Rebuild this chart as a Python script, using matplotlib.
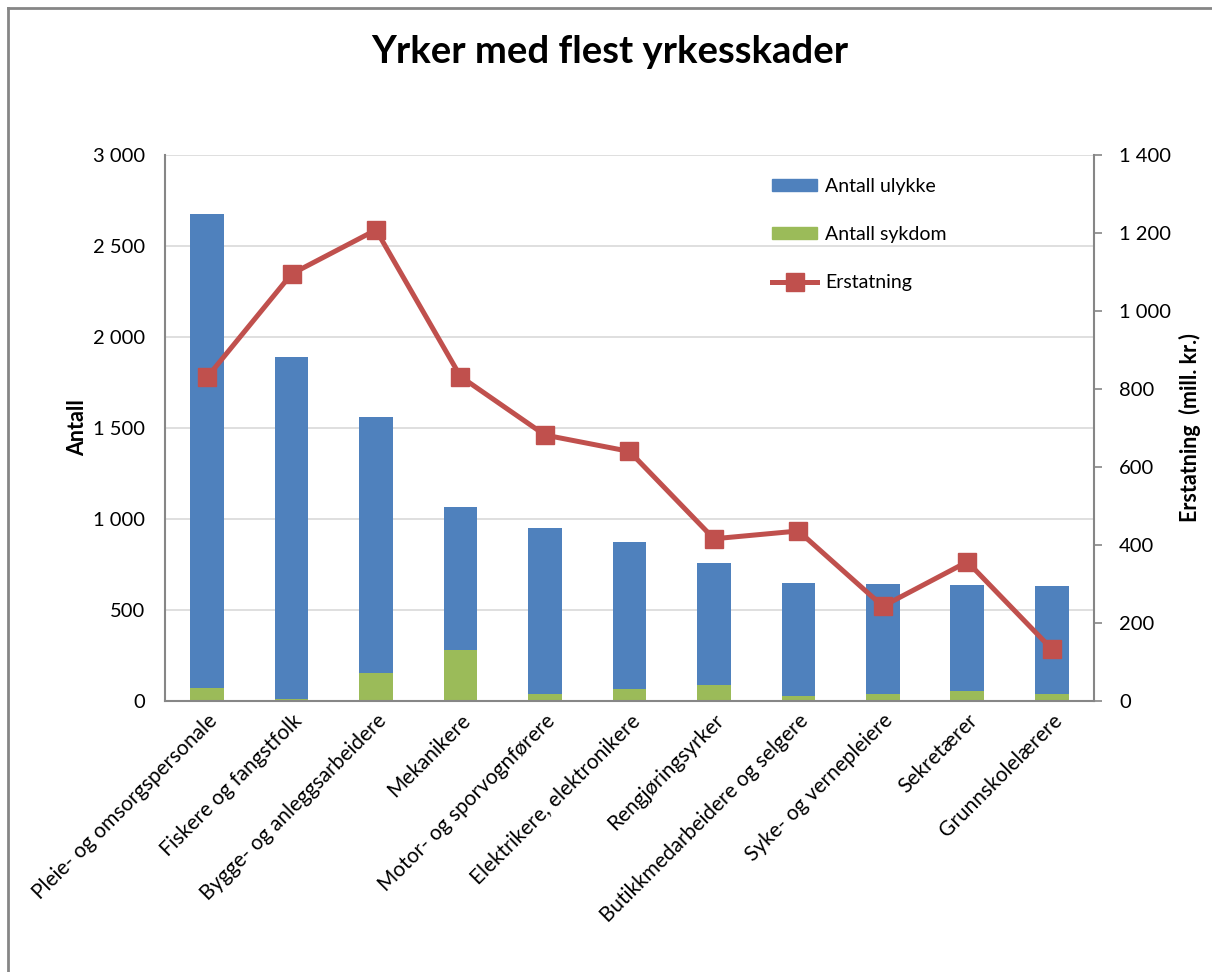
import matplotlib.pyplot as plt
from matplotlib.lines import Line2D
import numpy as np

plt.rcParams['font.family'] = ['Lato', 'DejaVu Sans']

yrker = ['Pleie- og omsorgspersonale', 'Fiskere og fangstfolk', 'Bygge- og anleggsarbeidere',
         'Mekanikere', 'Motor- og sporvognførere', 'Elektrikere, elektronikere',
         'Rengjøringsyrker', 'Butikkmedarbeidere og selgere', 'Syke- og vernepleiere',
         'Sekretærer', 'Grunnskolelærere']
sykdom = [73, 12, 156, 278, 37, 65, 89, 30, 37, 55, 37]
ulykke = [2602, 1878, 1404, 789, 914, 809, 670, 621, 608, 582, 594]
erstatning = [830, 1095, 1208, 832, 682, 640, 416, 436, 243, 357, 133]

blue = '#4F81BD'
green = '#9BBB59'
red = '#C0504D'
grey = '#868686'

fig = plt.figure(figsize=(12.12, 9.72), dpi=100)
ax = fig.add_axes([0.136, 0.2788, 0.7667, 0.5617])
x = np.arange(len(yrker))

ax.bar(x, sykdom, width=0.4, color=green, zorder=2)
ax.bar(x, ulykke, width=0.4, bottom=sykdom, color=blue, zorder=2)
ax.set_ylim(0, 3000)
ax.set_xlim(-0.5, len(yrker) - 0.5)
ax.set_yticks(range(0, 3001, 500))
ax.set_yticklabels([f'{v:,}'.replace(',', ' ') for v in range(0, 3001, 500)], fontsize=14.5)
ax.yaxis.grid(True, color='#D9D9D9', linewidth=1.2, zorder=0)
ax.set_axisbelow(True)
ax.tick_params(axis='y', length=0, pad=14)
ax.tick_params(axis='x', length=0, pad=7)
ax.set_xticks(x)
ax.set_xticklabels(yrker, rotation=45, ha='right', rotation_mode='anchor', fontsize=15)
ax.set_ylabel('Antall', fontsize=15.5, fontweight='bold', labelpad=4)
for s in ['top', 'right']:
    ax.spines[s].set_visible(False)
for s in ['left', 'bottom']:
    ax.spines[s].set_color(grey)
    ax.spines[s].set_linewidth(1.5)

ax2 = ax.twinx()
ax2.plot(x, erstatning, color=red, linewidth=3.6, marker='s', markersize=13, zorder=3)
ax2.set_ylim(0, 1400)
ax2.set_yticks(range(0, 1401, 200))
ax2.set_yticklabels([f'{v:,}'.replace(',', ' ') for v in range(0, 1401, 200)], fontsize=14.5)
ax2.tick_params(axis='y', length=6, width=1.2, color=grey, pad=12)
ax2.set_ylabel('Erstatning  (mill. kr.)', fontsize=15.5, fontweight='bold', labelpad=6)
for s in ['top', 'left', 'bottom']:
    ax2.spines[s].set_visible(False)
ax2.spines['right'].set_color(grey)
ax2.spines['right'].set_linewidth(1.5)

handles = [plt.Rectangle((0, 0), 1, 1, color=blue),
           plt.Rectangle((0, 0), 1, 1, color=green),
           Line2D([0], [0], color=red, linewidth=3.6, marker='s', markersize=13)]
ax2.legend(handles, ['Antall ulykke', 'Antall sykdom', 'Erstatning'],
           loc='upper left', bbox_to_anchor=(0.635, 0.99), frameon=False,
           fontsize=14, handlelength=2.3, handleheight=0.6, labelspacing=1.6,
           handletextpad=0.4)

fig.text(0.503, 0.946, 'Yrker med flest yrkesskader', ha='center', va='center',
         fontsize=27.5, fontweight='bold')

# chart frame (only top and left edges visible)
fig.add_artist(Line2D([0.0066, 0.0066], [0, 0.992], transform=fig.transFigure, color=grey, linewidth=2))
fig.add_artist(Line2D([0.0066, 1], [0.992, 0.992], transform=fig.transFigure, color=grey, linewidth=2))

fig.savefig('out.png', dpi=100)
